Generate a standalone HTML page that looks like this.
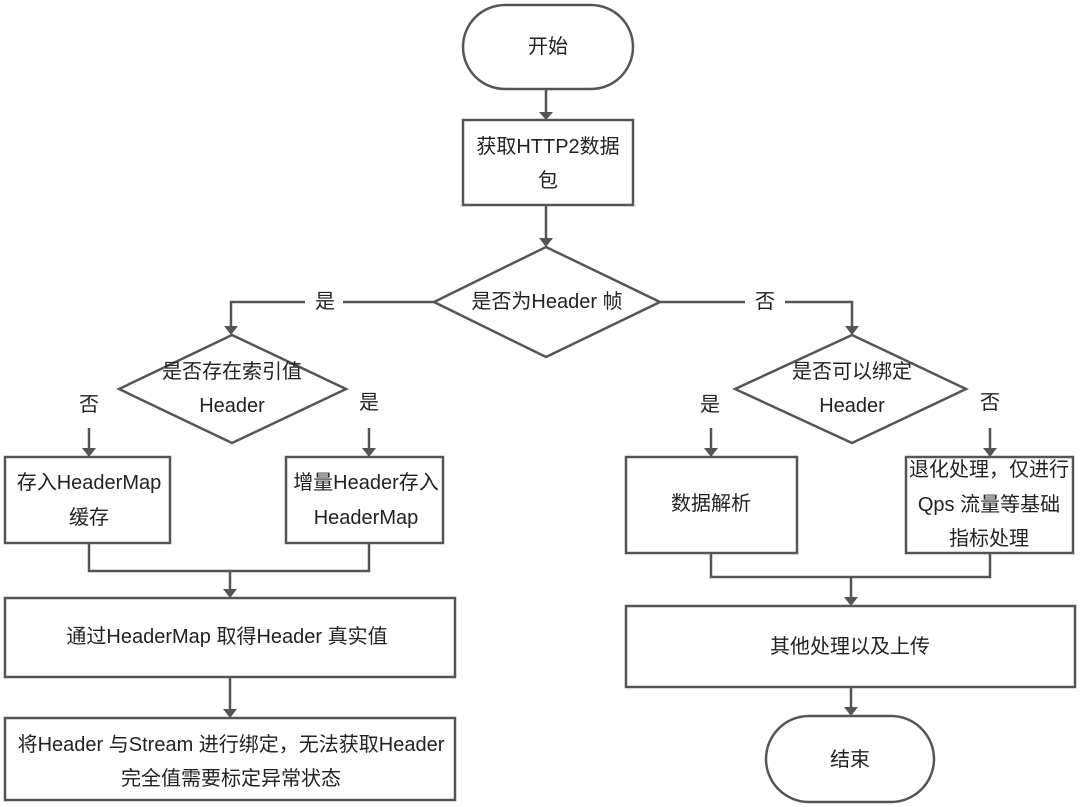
<!DOCTYPE html>
<html><head><meta charset="utf-8"><style>
html,body{margin:0;padding:0;background:#fff;}
svg{display:block;}
text{font-family:"Liberation Sans","Noto Sans CJK SC",sans-serif;font-size:20px;fill:#222;text-anchor:middle;dominant-baseline:central;}
.s{fill:#fff;stroke:#555;stroke-width:2.5;}
.l{fill:none;stroke:#555;stroke-width:2.5;}
.a{fill:#555;}
</style></head><body>
<svg width="1080" height="807" viewBox="0 0 1080 807">
<rect class="s" x="463" y="5" width="170" height="84" rx="42"/>
<text x="548" y="47">开始</text>
<g class="l">
<path d="M546 89 V114"/>
<path d="M546 205 V240"/>
<path d="M434 302 H343 M305 302 H231 V328"/>
<path d="M660 302 H745 M785 302 H852 V328"/>
<path d="M89 428 V450"/>
<path d="M369 428 V450"/>
<path d="M711 428 V450"/>
<path d="M990 428 V450"/>
<path d="M89 543 V571 H369 V543 M230 571 V591"/>
<path d="M230 677 V711"/>
<path d="M711 553 V577 H990 V553 M851 577 V599"/>
<path d="M851 687 V709"/>
</g>
<g class="a">
<path d="M539 112 L553 112 L546 120 Z"/>
<path d="M539 238 L553 238 L546 247 Z"/>
<path d="M224 326 L238 326 L231 335 Z"/>
<path d="M845 326 L859 326 L852 335 Z"/>
<path d="M82 448 L96 448 L89 457 Z"/>
<path d="M362 448 L376 448 L369 457 Z"/>
<path d="M704 448 L718 448 L711 457 Z"/>
<path d="M983 448 L997 448 L990 457 Z"/>
<path d="M223 589 L237 589 L230 598 Z"/>
<path d="M223 709 L237 709 L230 718 Z"/>
<path d="M844 597 L858 597 L851 606 Z"/>
<path d="M844 707 L858 707 L851 716 Z"/>
</g>
<rect class="s" x="463" y="120" width="170" height="85"/>
<text x="548" y="147">获取HTTP2数据</text>
<text x="548" y="181">包</text>
<path class="s" d="M434 302 L546 247 L660 302 L546 357 Z"/>
<text x="547" y="302">是否为Header 帧</text>
<text x="325" y="302">是</text>
<text x="765" y="302">否</text>
<path class="s" d="M119 389 L232 335 L346 389 L232 443 Z"/>
<text x="232" y="372">是否存在索引值</text>
<text x="232" y="406">Header</text>
<text x="89" y="405">否</text>
<text x="369" y="403">是</text>
<path class="s" d="M735 389 L852 335 L966 389 L852 443 Z"/>
<text x="852" y="372">是否可以绑定</text>
<text x="852" y="406">Header</text>
<text x="710" y="405">是</text>
<text x="990" y="403">否</text>
<rect class="s" x="5" y="457" width="165" height="86"/>
<text x="89" y="483">存入HeaderMap</text>
<text x="89" y="518">缓存</text>
<rect class="s" x="286" y="457" width="157" height="86"/>
<text x="366" y="483">增量Header存入</text>
<text x="366" y="518">HeaderMap</text>
<rect class="s" x="626" y="457" width="171" height="96"/>
<text x="711" y="504">数据解析</text>
<rect class="s" x="906" y="457" width="167" height="96"/>
<text x="989" y="470">退化处理，仅进行</text>
<text x="989" y="505">Qps 流量等基础</text>
<text x="989" y="539">指标处理</text>
<rect class="s" x="5" y="598" width="450" height="79"/>
<text x="227" y="637">通过HeaderMap 取得Header 真实值</text>
<rect class="s" x="5" y="718" width="450" height="82"/>
<text x="231" y="745">将Header 与Stream 进行绑定，无法获取Header</text>
<text x="231" y="779">完全值需要标定异常状态</text>
<rect class="s" x="626" y="606" width="449" height="81"/>
<text x="850" y="647">其他处理以及上传</text>
<rect class="s" x="766" y="716" width="168" height="86" rx="43"/>
<text x="850" y="760">结束</text>
</svg>
</body></html>
